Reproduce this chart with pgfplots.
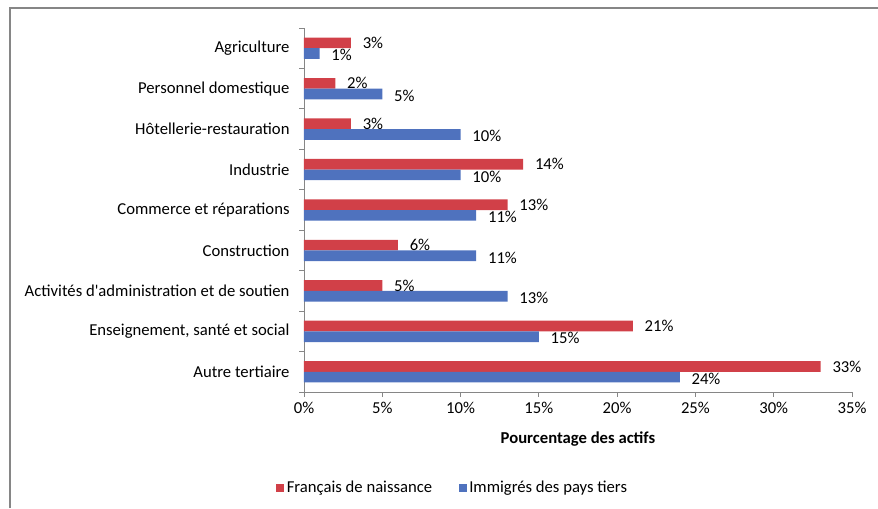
\documentclass[border=0pt]{standalone}
\usepackage{pgfplots}
\pgfplotsset{compat=1.18}
\usepackage{fontspec}
\setmainfont{Carlito}
\definecolor{cred}{RGB}{209,64,72}
\definecolor{cblue}{RGB}{79,114,190}
\definecolor{cax}{RGB}{134,134,134}
\begin{document}
\fontsize{12.5}{14.5}\selectfont
\begin{tikzpicture}
\useasboundingbox (0,0) rectangle (658.5pt,381pt);
\draw[cax, line width=0.9pt] (7.5pt,0) -- (7.5pt,375pt) -- (658.5pt,375pt);
\begin{axis}[
  at={(228pt,87pt)}, anchor=south west,
  scale only axis, width=411pt, height=273pt,
  xbar, bar width=8pt,
  xmin=0, xmax=35, ymin=-0.5, ymax=8.5, y dir=reverse,
  axis x line*=bottom, axis y line*=left,
  axis line style={cax, -, line width=0.6pt},
  /pgf/number format/assume math mode=true,
  xtick={0,5,...,35},
  xticklabel={\pgfmathprintnumber{\tick}\%},
  ytick={0,...,8},
  yticklabels={Agriculture, Personnel domestique, Hôtellerie-restauration, Industrie, Commerce et réparations, {Construction\hspace{3pt}}, Activités d\textquotesingle administration et de soutien, {Enseignement, santé et social\hspace{3pt}}, Autre tertiaire},
  minor ytick={-0.5,0.5,...,8.5},
  every major y tick/.append style={draw=none},
  tick align=outside,
  tick style={cax, line width=0.6pt},
  major tick length=3.5pt, minor tick length=3.5pt,
  yticklabel style={xshift=-3pt},
  every axis x label/.style={at={(axis description cs:0.5,-0.128)}, anchor=center, font=\bfseries},
  xlabel={Pourcentage des actifs},
  nodes near coords={\pgfmathprintnumber{\pgfplotspointmeta}\%},
  every node near coord/.append style={text=black, xshift=4.5pt},
  legend style={at={(0.272,-0.263)}, anchor=center, draw=none, legend columns=2,
    /tikz/every even column/.append style={column sep=18pt}},
  legend image code/.code={\fill[#1] (0pt,-2.9pt) rectangle (5.8pt,2.9pt);},
]
\addplot[fill=cred, draw=none, bar shift=4pt] coordinates {
 (3,0) (2,1) (3,2) (14,3) (13,4) (6,5) (5,6) (21,7) (33,8)};
\addplot[fill=cblue, draw=none, bar shift=-4pt,
  every node near coord/.append style={yshift=-1.2pt}] coordinates {
 (1,0) (5,1) (10,2) (10,3) (11,4) (11,5) (13,6) (15,7) (24,8)};
\legend{Français de naissance, Immigrés des pays tiers}
\end{axis}
\end{tikzpicture}
\end{document}
